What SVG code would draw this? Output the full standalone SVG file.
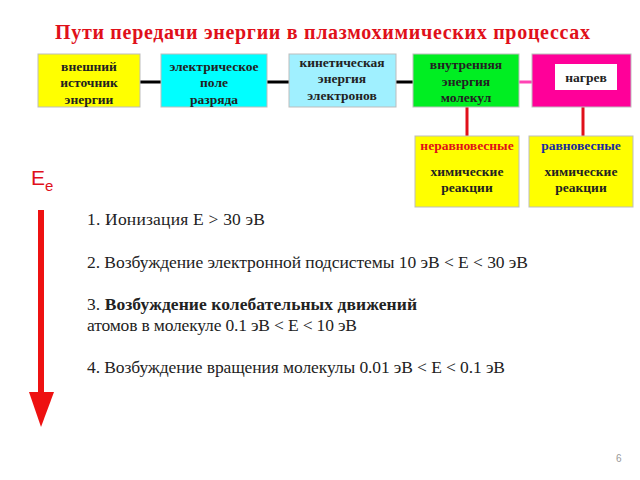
<svg xmlns="http://www.w3.org/2000/svg" width="640" height="480" viewBox="0 0 640 480">
<style>
.bx{stroke:#bdbdbd;stroke-width:1}
.bt{font-family:"Liberation Serif",serif;font-weight:bold;font-size:13.5px;fill:#222;text-anchor:middle}
.tx{font-family:"Liberation Serif",serif;font-size:17.5px;fill:#222}
.ln{stroke:#000;stroke-width:3}
</style>
<rect width="640" height="480" fill="#fff"/>
<text x="55" y="39" textLength="535" font-family="Liberation Serif,serif" font-weight="bold" font-size="20" fill="#e0101a">Пути передачи энергии в плазмохимических процессах</text>
<g id="connectors">
<line class="ln" x1="140" y1="82" x2="161" y2="82"/>
<line class="ln" x1="267" y1="82" x2="289" y2="82"/>
<line class="ln" x1="396" y1="82" x2="413" y2="82"/>
<line x1="519" y1="82" x2="532" y2="82" stroke="#ff44b4" stroke-width="3"/>
<line x1="467" y1="107" x2="467" y2="136" stroke="#e0101a" stroke-width="3"/>
<line x1="583" y1="107" x2="583" y2="136" stroke="#e0101a" stroke-width="3"/>
</g>
<g id="n1"><rect class="bx" x="38" y="54" width="102" height="53" fill="#ffff00"/>
<text class="bt" x="89" y="71">внешний</text><text class="bt" x="89" y="87">источник</text><text class="bt" x="89" y="104">энергии</text></g>
<g id="n2"><rect class="bx" x="161" y="54" width="106" height="53" fill="#00ffff"/>
<text class="bt" x="214" y="71">электрическое</text><text class="bt" x="214" y="87">поле</text><text class="bt" x="214" y="104">разряда</text></g>
<g id="n3"><rect class="bx" x="289" y="54" width="107" height="53" fill="#a0f0ff"/>
<text class="bt" x="342" y="67">кинетическая</text><text class="bt" x="342" y="83">энергия</text><text class="bt" x="342" y="100">электронов</text></g>
<g id="n4"><rect class="bx" x="413" y="54" width="106" height="53" fill="#00ee22"/>
<text class="bt" x="466" y="69">внутренняя</text><text class="bt" x="466" y="86">энергия</text><text class="bt" x="466" y="102">молекул</text></g>
<g id="n5"><rect class="bx" x="532" y="54" width="99" height="53" fill="#ff0099"/>
<rect x="555" y="64" width="62" height="26" fill="#fff"/>
<text class="bt" x="586" y="82">нагрев</text></g>
<g id="n6"><rect class="bx" x="415" y="136" width="104" height="71" fill="#ffff00"/>
<text class="bt" x="467" y="150" style="fill:#e0101a">неравновесные</text>
<text class="bt" x="467" y="176">химические</text><text class="bt" x="467" y="192">реакции</text></g>
<g id="n7"><rect class="bx" x="529" y="136" width="104" height="71" fill="#ffff00"/>
<text class="bt" x="581" y="150" style="fill:#1a2aa0">равновесные</text>
<text class="bt" x="581" y="176">химические</text><text class="bt" x="581" y="192">реакции</text></g>
<g id="ee">
<text x="31" y="185" font-family="Liberation Sans,sans-serif" font-size="21" fill="#e0101a">E<tspan font-size="15" dy="6">e</tspan></text>
<rect x="38" y="210" width="6" height="184" fill="#ee1111"/>
<polygon points="29,392 54,392 41,427" fill="#ee1111"/>
</g>
<g id="text">
<text class="tx" x="87" y="225" textLength="178">1. Ионизация  E &gt; 30 эВ</text>
<text class="tx" x="87" y="268" textLength="441">2. Возбуждение электронной подсистемы 10 эВ &lt; E &lt; 30 эВ</text>
<text class="tx" x="87" y="310" textLength="330">3. <tspan font-weight="bold">Возбуждение колебательных движений</tspan></text>
<text class="tx" x="87" y="331" textLength="270">атомов в молекуле 0.1 эВ &lt; E &lt; 10 эВ</text>
<text class="tx" x="87" y="373" textLength="418">4. Возбуждение вращения молекулы 0.01 эВ &lt; E &lt; 0.1 эВ</text>
</g>
<text x="616" y="462" font-family="Liberation Sans,sans-serif" font-size="10" fill="#999">6</text>
</svg>
